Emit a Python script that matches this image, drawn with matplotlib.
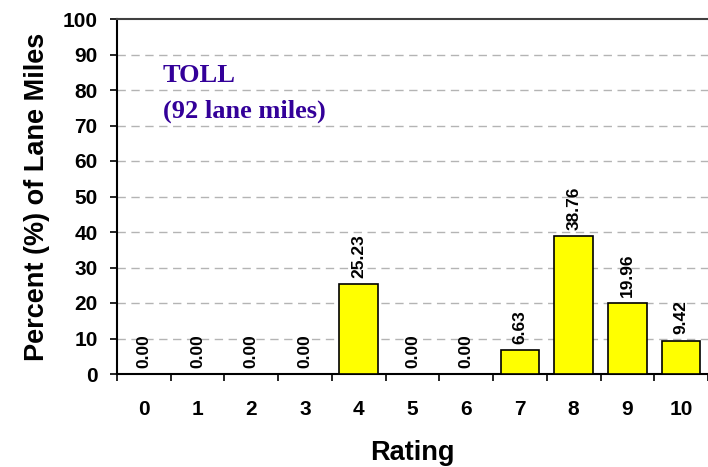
import matplotlib
matplotlib.use("Agg")
import matplotlib.pyplot as plt
import numpy as np

ratings = [0, 1, 2, 3, 4, 5, 6, 7, 8, 9, 10]
percent = [0.00, 0.00, 0.00, 0.00, 25.23, 0.00, 0.00, 6.63, 38.76, 19.96, 9.42]
yticks = [0, 10, 20, 30, 40, 50, 60, 70, 80, 90, 100]

plt.rcParams['font.family'] = ['Liberation Sans', 'DejaVu Sans']

fig = plt.figure(figsize=(7.08, 4.67), dpi=100)
ax = fig.add_axes([117/708, 93/467, 591/708, 355/467])

x = np.arange(len(ratings))
ax.bar(x, percent, width=0.72, color='#ffff00', edgecolor='black', linewidth=1.2, zorder=3)

for xi, v in zip(x, percent):
    ax.text(xi, v + 1.8, f"{v:.2f}", rotation=90, ha='center', va='bottom',
            fontsize=12.5, fontweight='bold', zorder=4)

ax.set_xlim(-0.5, len(ratings) - 0.5)
ax.set_ylim(0, 100)
ax.set_yticks(yticks)
ax.set_yticklabels([str(t) for t in yticks], fontsize=15, fontweight='bold')

ax.set_xticks(np.arange(-0.5, len(ratings) - 0.4, 1.0))
ax.set_xticklabels([])
ax.set_xticks(x, minor=True)
ax.set_xticklabels([str(r) for r in ratings], minor=True, fontsize=15, fontweight='bold')
ax.tick_params(axis='x', which='major', direction='out', length=5, width=1.2)
ax.tick_params(axis='x', which='minor', length=0, pad=19)
ax.tick_params(axis='y', direction='out', length=5, width=1.2, pad=9)

for t in yticks[1:-1]:
    ax.axhline(t, color='#b4b4b4', linestyle=(0, (6, 4)), linewidth=1.0, zorder=1)

ax.spines['left'].set_linewidth(1.5)
ax.spines['bottom'].set_linewidth(1.5)
ax.spines['top'].set_color('#404040')
ax.spines['top'].set_linewidth(1.5)
ax.spines['right'].set_visible(False)

ax.set_ylabel('Percent (%) of Lane Miles', fontsize=19.5, fontweight='bold', labelpad=9)
ax.set_xlabel('Rating', fontsize=19.5, fontweight='bold', labelpad=15)

ax.text(0.357, 79, 'TOLL\n(92 lane miles)', fontsize=19, fontweight='bold',
        color='#330099', family=['Liberation Serif', 'DejaVu Serif'], ha='left', va='center',
        linespacing=1.65)

fig.savefig('out.png', dpi=100)
